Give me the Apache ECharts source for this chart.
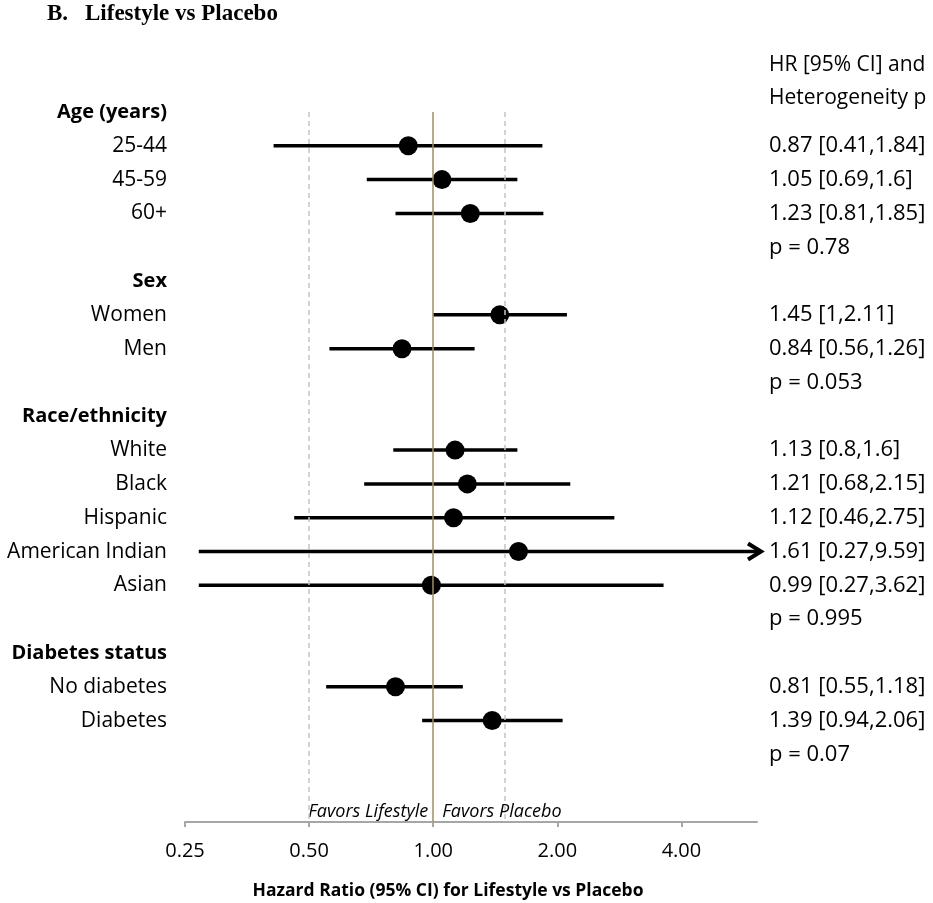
<!DOCTYPE html>
<html>
<head>
<meta charset="utf-8">
<script src="https://cdn.jsdelivr.net/npm/echarts@6/dist/echarts.min.js"></script>
<style>
  html, body { margin: 0; padding: 0; background: #fff; }
  #main { width: 933px; height: 903px; }
</style>
</head>
<body>
<div id="main"></div>
<script>
// subgroup data
var groupNames = ['Age (years)', 'Sex', 'Race/ethnicity', 'Diabetes status'];
var subgroupNames = [
  ['25-44', '45-59', '60+'],
  ['Women', 'Men'],
  ['White', 'Black', 'Hispanic', 'American Indian', 'Asian'],
  ['No diabetes', 'Diabetes']
];
var hrValues = [[0.87, 1.05, 1.23], [1.45, 0.84], [1.13, 1.21, 1.12, 1.61, 0.99], [0.81, 1.39]];
var ciLower  = [[0.41, 0.69, 0.81], [1, 0.56], [0.8, 0.68, 0.46, 0.27, 0.27], [0.55, 0.94]];
var ciUpper  = [[1.84, 1.6, 1.85], [2.11, 1.26], [1.6, 2.15, 2.75, 9.59, 3.62], [1.18, 2.06]];
var pValues = [0.78, 0.053, 0.995, 0.07];

var tickValues = [0.25, 0.5, 1, 2, 4];
var axisMin = 0.25, axisMax = 6.1;
var dashedRefs = [0.5, 1.5];
var favorsTexts = ['Favors Lifestyle', 'Favors Placebo'];

var lg = Math.log2;
var fontCal = 'Open Sans';

// lay the table out in rows: header, subgroups, p value
var rowLabels = [], rowHeader = [], rowRight = [];
var ciData = [], dotData = [];
for (var g = 0; g < groupNames.length; g++) {
  rowLabels.push(groupNames[g]); rowHeader.push(true); rowRight.push('');
  for (var s = 0; s < subgroupNames[g].length; s++) {
    var r = rowLabels.length;
    rowLabels.push(subgroupNames[g][s]); rowHeader.push(false);
    rowRight.push(hrValues[g][s] + ' [' + ciLower[g][s] + ',' + ciUpper[g][s] + ']');
    ciData.push([lg(ciLower[g][s]), lg(ciUpper[g][s]), r]);
    dotData.push([lg(hrValues[g][s]), r]);
  }
  rowLabels.push(''); rowHeader.push(false); rowRight.push('p = ' + pValues[g]);
}
var nRows = 21;
var favorsRow = 20.7;

var chartDom = document.getElementById('main');
var myChart = echarts.init(chartDom);

function renderCI(params, api) {
  var xMax = lg(axisMax);
  var lo = api.value(0), hi = api.value(1), row = api.value(2);
  var a = api.coord([lo, row]);
  var b = api.coord([Math.min(hi, xMax), row]);
  var kids = [{
    type: 'line',
    shape: {x1: a[0], y1: a[1], x2: b[0] + (hi > xMax ? 4 : 0), y2: b[1]},
    style: {stroke: '#000', lineWidth: 3.5}
  }];
  if (hi > xMax) { // arrow for a clipped interval
    kids.push({
      type: 'polyline',
      shape: {points: [[b[0] - 9, b[1] - 8], [b[0] + 4, b[1]], [b[0] - 9, b[1] + 8]]},
      style: {stroke: '#000', lineWidth: 4, fill: null}
    });
  }
  return {type: 'group', children: kids};
}

function renderFavors(params, api) {
  var p = api.coord([0, favorsRow]);
  var left = params.dataIndex === 0;
  return {
    type: 'text',
    x: p[0] + (left ? -5 : 9),
    y: p[1],
    style: {
      text: favorsTexts[params.dataIndex],
      fontFamily: fontCal, fontStyle: 'italic', fontSize: 18, fill: '#000',
      align: left ? 'right' : 'left', verticalAlign: 'middle'
    }
  };
}

var option = {
  animation: false,
  title: [
    {text: 'B.', left: 47, top: 3, padding: 0,
      textStyle: {fontFamily: 'Liberation Serif', fontWeight: 'bold', fontSize: 23, color: '#000'}},
    {text: 'Lifestyle vs Placebo', left: 85, top: 3, padding: 0,
      textStyle: {fontFamily: 'Liberation Serif', fontWeight: 'bold', fontSize: 23, color: '#000'}},
    {text: 'HR [95% CI] and\nHeterogeneity p', left: 769, top: 49, padding: 0,
      textStyle: {fontFamily: fontCal, fontWeight: 'normal', fontSize: 21, lineHeight: 33, color: '#000'}},
    {text: 'Hazard Ratio (95% CI) for Lifestyle vs Placebo', left: 448, top: 882, padding: 0, textAlign: 'center',
      textStyle: {fontFamily: fontCal, fontWeight: 'bold', fontSize: 17.5, color: '#000'}}
  ],
  grid: {left: 185, right: 176, top: 112, bottom: 81},
  xAxis: {
    type: 'value',
    position: 'bottom',
    min: lg(axisMin),
    max: lg(axisMax),
    splitLine: {show: false},
    axisLine: {show: true, onZero: false, lineStyle: {color: '#a6a6a6', width: 2}},
    axisTick: {show: true, length: 5, customValues: tickValues.map(lg), lineStyle: {color: '#a6a6a6', width: 2}},
    axisLabel: {
      customValues: tickValues.map(lg),
      formatter: function (v) { return Math.pow(2, v).toFixed(2); },
      fontFamily: fontCal, fontSize: 20, color: '#000', margin: 19
    }
  },
  yAxis: [{
    type: 'value', inverse: true, min: 0, max: nRows, interval: 1,
    axisLine: {show: false}, axisTick: {show: false}, splitLine: {show: false},
    axisLabel: {
      margin: 18,
      formatter: function (v) {
        var t = rowLabels[v] || '';
        if (!t) return '';
        return rowHeader[v] ? '{h|' + t + '}' : '{n|' + t + '}';
      },
      rich: {
        h: {fontFamily: fontCal, fontWeight: 'bold', fontSize: 20, color: '#000'},
        n: {fontFamily: fontCal, fontSize: 21, color: '#000'}
      }
    }
  }, {
    type: 'value', inverse: true, min: 0, max: nRows, interval: 1, position: 'right',
    axisLine: {show: false}, axisTick: {show: false}, splitLine: {show: false},
    axisLabel: {
      margin: 12,
      fontFamily: fontCal, fontSize: 22, color: '#000',
      formatter: function (v) { return rowRight[v] || ''; }
    }
  }],
  series: [{
    type: 'scatter',
    data: [],
    z: 1,
    silent: true,
    markLine: {
      silent: true,
      symbol: 'none',
      label: {show: false},
      data: dashedRefs.map(function (v) {
        return {xAxis: lg(v), lineStyle: {color: '#c4c4c4', width: 1.5, type: [5, 4]}};
      }).concat([{xAxis: 0, lineStyle: {color: '#a08f5a', width: 1.5, type: 'solid'}}])
    }
  }, {
    type: 'custom',
    renderItem: renderCI,
    encode: {x: [0, 1], y: 2},
    data: ciData,
    clip: false,
    z: 2
  }, {
    type: 'scatter',
    data: dotData,
    symbol: 'circle',
    symbolSize: 19,
    itemStyle: {color: '#000', opacity: 1},
    z: 3
  }, {
    type: 'custom',
    renderItem: renderFavors,
    data: [[0, favorsRow], [0, favorsRow]],
    clip: false,
    z: 4
  }]
};

myChart.setOption(option);
</script>
</body>
</html>
